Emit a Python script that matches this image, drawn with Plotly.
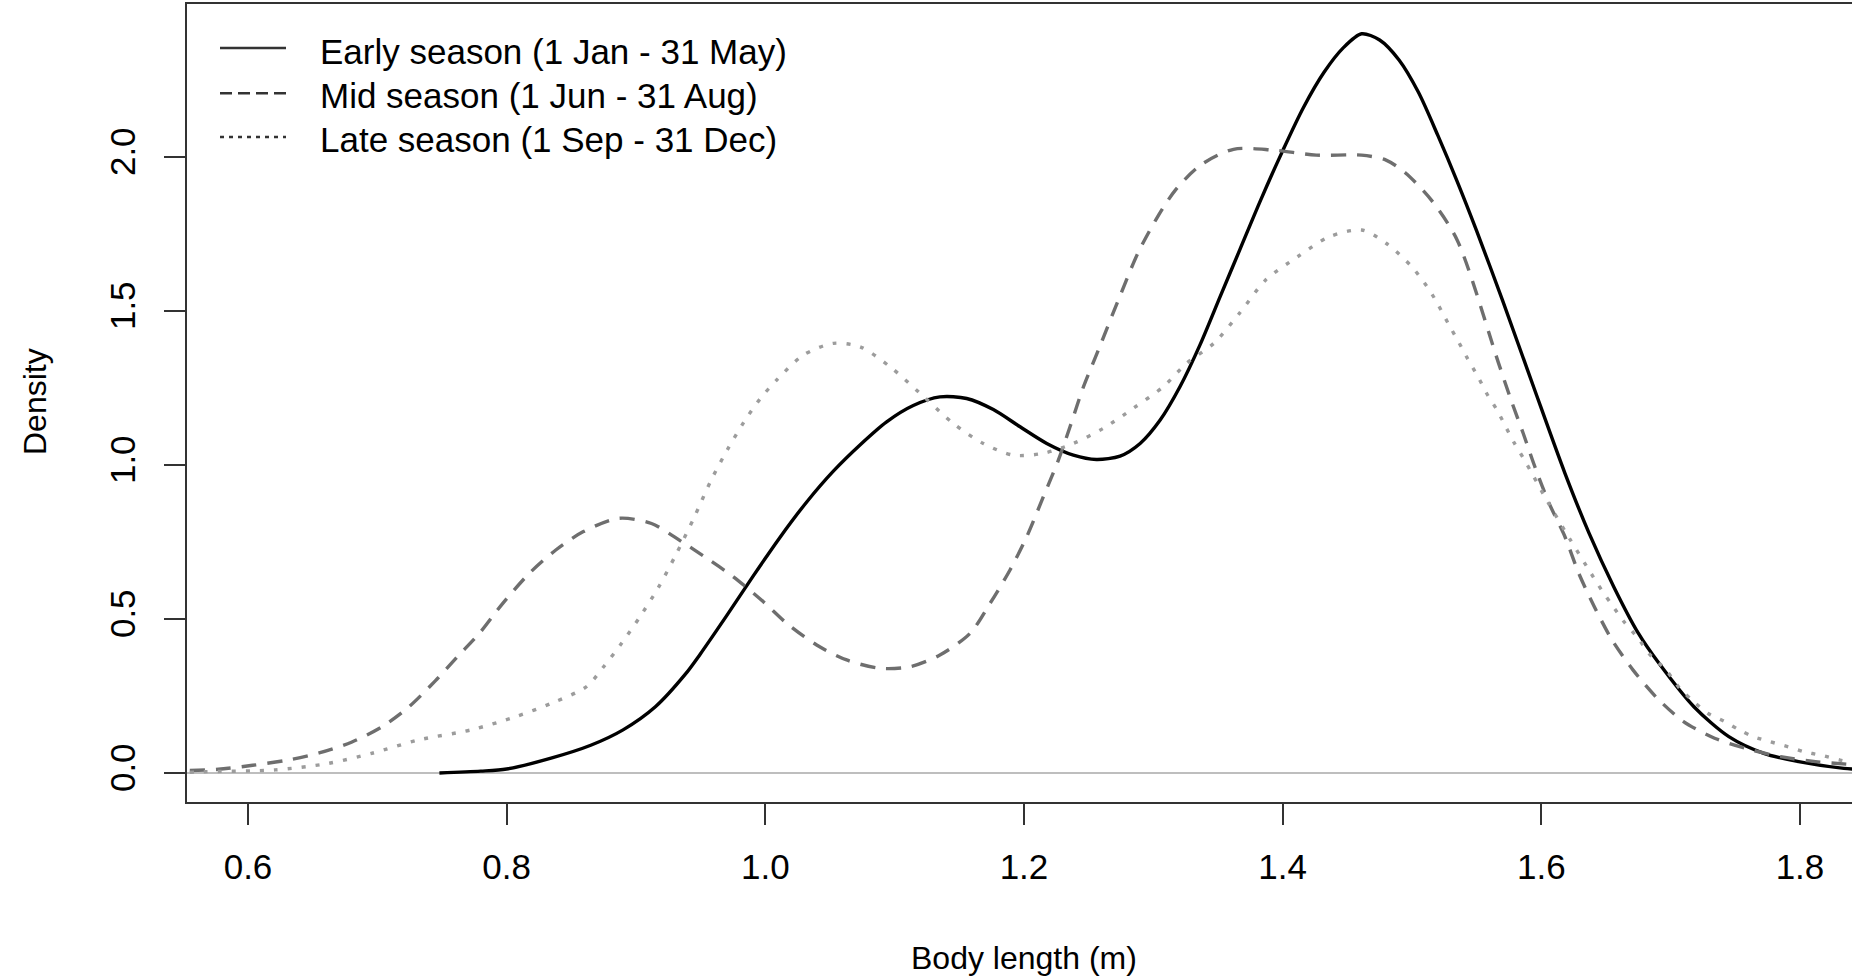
import plotly.graph_objects as go

# ---- data ----
early_x = [0.748, 0.78, 0.80, 0.835, 0.865, 0.89, 0.915, 0.938, 0.9495, 0.970, 0.9907, 1.0113,
           1.032, 1.0526, 1.0732, 1.0938, 1.1144, 1.135, 1.1557, 1.1763, 1.197, 1.2176, 1.2382,
           1.256, 1.2743, 1.2898, 1.3053, 1.3206, 1.3361, 1.352, 1.367, 1.383, 1.40, 1.416,
           1.432, 1.447, 1.461, 1.475, 1.49, 1.505, 1.52, 1.535, 1.55, 1.5699, 1.594, 1.6183,
           1.637, 1.656, 1.675, 1.691, 1.718, 1.745, 1.772, 1.799, 1.834, 1.845]
early_y = [0.0, 0.006, 0.013, 0.049, 0.09, 0.14, 0.215, 0.32, 0.385, 0.51, 0.64, 0.765,
           0.88, 0.98, 1.065, 1.14, 1.193, 1.221, 1.216, 1.18, 1.124, 1.07, 1.032,
           1.018, 1.029, 1.07, 1.146, 1.254, 1.39, 1.55, 1.70, 1.86, 2.02, 2.16,
           2.275, 2.355, 2.40, 2.38, 2.315, 2.21, 2.07, 1.92, 1.76, 1.536, 1.254, 0.973,
           0.778, 0.605, 0.454, 0.356, 0.215, 0.118, 0.064, 0.037, 0.015, 0.012]

mid_x = [0.555, 0.577, 0.6036, 0.631, 0.655, 0.68, 0.7036, 0.7245, 0.745, 0.762, 0.779, 0.797,
         0.8177, 0.838, 0.859, 0.8867, 0.912, 0.935, 0.952, 0.9753, 0.9985, 1.0165, 1.0397,
         1.0629, 1.0887, 1.1119, 1.135, 1.1583, 1.1738, 1.1892, 1.2021, 1.215, 1.2266, 1.2356,
         1.246, 1.2575, 1.273, 1.288, 1.3025, 1.3175, 1.337, 1.362, 1.3915, 1.426, 1.461, 1.48,
         1.495, 1.515, 1.535, 1.567, 1.5766, 1.586, 1.5955, 1.606, 1.6183, 1.629, 1.641,
         1.6547, 1.671, 1.6897, 1.71, 1.734, 1.758, 1.785, 1.812, 1.845]
mid_y = [0.008, 0.012, 0.025, 0.042, 0.065, 0.10, 0.15, 0.215, 0.30, 0.378, 0.454, 0.551,
         0.649, 0.724, 0.783, 0.827, 0.81, 0.752, 0.705, 0.637, 0.556, 0.486, 0.4156,
         0.367, 0.34, 0.345, 0.383, 0.4535, 0.551, 0.659, 0.767, 0.897, 1.016, 1.124,
         1.254, 1.373, 1.536, 1.687, 1.80, 1.895, 1.975, 2.025, 2.023, 2.006, 2.006, 1.99,
         1.948, 1.86, 1.73, 1.33, 1.211, 1.103, 0.989, 0.876, 0.767, 0.648, 0.54,
         0.432, 0.334, 0.2425, 0.167, 0.113, 0.08, 0.053, 0.037, 0.026]

late_x = [0.555, 0.5657, 0.621, 0.662, 0.6967, 0.7315, 0.7725, 0.807, 0.835, 0.8616, 0.875,
          0.889, 0.903, 0.917, 0.931, 0.945, 0.958, 0.9707, 0.9835, 0.996, 1.0088, 1.0294,
          1.0526, 1.0732, 1.0964, 1.1196, 1.1453, 1.1685, 1.1917, 1.215, 1.2382, 1.2613,
          1.2845, 1.3077, 1.3257, 1.347, 1.3667, 1.3867, 1.4115, 1.436, 1.461, 1.48, 1.50,
          1.515, 1.5294, 1.536, 1.5429, 1.551, 1.5577, 1.5657, 1.5725, 1.5793, 1.587, 1.605,
          1.622, 1.6385, 1.6466, 1.6548, 1.664, 1.675, 1.683, 1.6965, 1.707, 1.718, 1.7287,
          1.742, 1.753, 1.764, 1.777, 1.791, 1.803, 1.816, 1.831, 1.845]
late_y = [0.002, 0.004, 0.01, 0.031, 0.065, 0.107, 0.14, 0.183, 0.227, 0.28, 0.345,
          0.422, 0.507, 0.60, 0.71, 0.83, 0.95, 1.05, 1.14, 1.215, 1.276, 1.357,
          1.395, 1.384, 1.319, 1.233, 1.135, 1.07, 1.032, 1.038, 1.07, 1.119,
          1.184, 1.254, 1.33, 1.396, 1.493, 1.60, 1.676, 1.741, 1.763, 1.72, 1.643,
          1.558, 1.449, 1.40, 1.346, 1.287, 1.233, 1.179, 1.124, 1.07, 1.016, 0.88,
          0.76, 0.648, 0.594, 0.545, 0.491, 0.437, 0.389, 0.334, 0.275, 0.2315, 0.194,
          0.1665, 0.14, 0.118, 0.1016, 0.085, 0.069, 0.058, 0.042, 0.031]

x_ticks = [0.6, 0.8, 1.0, 1.2, 1.4, 1.6, 1.8]
x_labels = ["0.6", "0.8", "1.0", "1.2", "1.4", "1.6", "1.8"]
y_ticks = [0.0, 0.5, 1.0, 1.5, 2.0]
y_labels = ["0.0", "0.5", "1.0", "1.5", "2.0"]
legend_labels = ["Early season (1 Jan - 31 May)", "Mid season (1 Jun - 31 Aug)",
                 "Late season (1 Sep - 31 Dec)"]

# ---- layout geometry (pixels) ----
W, H = 1852, 977
L, R, T, B = 187, 0, 4, 175
PW, PH = W - L - R, H - T - B
FONT = "Liberation Sans, Arial, sans-serif"


def px(x):
    return (x - L) / PW


def py(y):
    return (H - B - y) / PH


fig = go.Figure()
fig.add_trace(go.Scatter(x=early_x, y=early_y, mode="lines", name=legend_labels[0],
                         line=dict(color="#000000", width=3.4, shape="spline", smoothing=0.8)))
fig.add_trace(go.Scatter(x=mid_x, y=mid_y, mode="lines", name=legend_labels[1],
                         line=dict(color="#6e6e6e", width=3.4, dash="15px,11px",
                                   shape="spline", smoothing=0.8)))
fig.add_trace(go.Scatter(x=late_x, y=late_y, mode="lines", name=legend_labels[2],
                         line=dict(color="#9c9c9c", width=3.4, dash="4px,10px",
                                   shape="spline", smoothing=0.8)))

shapes = [dict(type="line", xref="paper", yref="y", x0=0, x1=1, y0=0, y1=0,
               line=dict(color="#bebebe", width=2), layer="below")]
annotations = []

leg_y = [48, 93.3, 137]
txt_y = [51, 95, 139]
leg_dash = ["solid", "12px,6px", "4px,5px"]
for lab, yy, ty, dsh in zip(legend_labels, leg_y, txt_y, leg_dash):
    shapes.append(dict(type="line", xref="paper", yref="paper", x0=px(220), x1=px(286),
                       y0=py(yy), y1=py(yy), line=dict(color="#333333", width=2.5, dash=dsh)))
    annotations.append(dict(text=lab, xref="paper", yref="paper", x=px(318), y=py(ty),
                            xanchor="left", yanchor="middle", showarrow=False,
                            font=dict(family=FONT, size=35, color="#000000")))

annotations.append(dict(text="Body length (m)", xref="x", yref="paper", x=1.2, y=py(958),
                        xanchor="center", yanchor="middle", showarrow=False,
                        font=dict(family=FONT, size=32, color="#000000")))
annotations.append(dict(text="Density", xref="paper", yref="paper", x=px(35), y=py(402),
                        xanchor="center", yanchor="middle", showarrow=False, textangle=-90,
                        font=dict(family=FONT, size=32, color="#000000")))

fig.update_layout(
    width=W, height=H,
    margin=dict(l=L, r=R, t=T, b=B, pad=0),
    paper_bgcolor="white", plot_bgcolor="white",
    showlegend=False,
    shapes=shapes, annotations=annotations,
    xaxis=dict(range=[0.6 - (248 - L) / 1293.3, 0.6 + (W - 248) / 1293.3],
               tickvals=x_ticks, ticktext=x_labels, ticks="outside", ticklen=21,
               tickwidth=2, tickcolor="#333333", showline=True, linecolor="#333333",
               linewidth=2, mirror=True, showgrid=False, zeroline=False,
               tickfont=dict(family=FONT, size=35, color="#000000"),
               ticklabelstandoff=12),
    yaxis=dict(range=[(773 - 802) / 308, (773 - 4) / 308],
               tickvals=y_ticks, ticktext=y_labels, ticks="outside", ticklen=21,
               tickwidth=2, tickcolor="#333333", showline=True, linecolor="#333333",
               linewidth=2, mirror=False, showgrid=False, zeroline=False,
               tickangle=-90, tickfont=dict(family=FONT, size=35, color="#000000"),
               ticklabelstandoff=15),
)

fig.write_html("out.html", config={"displayModeBar": False},
               post_script="document.body.style.margin='0';document.body.style.overflow='hidden';")
